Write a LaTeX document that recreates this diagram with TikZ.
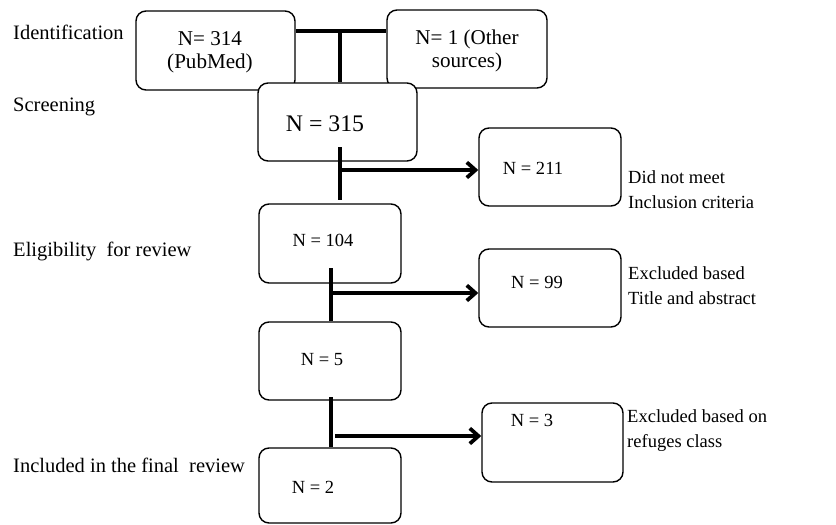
\documentclass[tikz,border=0pt]{standalone}
\usepackage{fontspec}
\setmainfont{Liberation Serif}
\usetikzlibrary{arrows.meta}

\begin{document}
\begin{tikzpicture}[x=0.03cm,y=-0.03cm,
  box/.style={draw, line width=1.2pt, rounded corners=0.3cm, inner sep=0pt},
  conn/.style={line width=3.2pt},
  arr/.style={line width=3.2pt, -{Straight Barb[length=2.6mm,width=4.6mm]}},
  stage/.style={anchor=base west, inner sep=0pt, font=\fontsize{17.5}{21}\selectfont},
  note/.style={anchor=west, align=left, inner sep=0pt, font=\fontsize{15.8}{21.3}\selectfont},
  num/.style={inner sep=0pt, font=\fontsize{15.8}{19}\selectfont},
  top/.style={inner sep=0pt, align=center, font=\fontsize{18}{19.6}\selectfont}]

\useasboundingbox (0,0) rectangle (836,524);

% stages on the left
\node[stage] (ident) at (13,39) {Identification};
\node[stage] (screen) at (13,111) {Screening};
\node[stage] (elig) at (13,256) {Eligibility\ \ for review};
\node[stage] (incl) at (13,472) {Included in the final\ \ review};

% boxes
\node[box, minimum width=4.77cm, minimum height=2.37cm] (b314) at (215.5,50.5) {};
\node[box, minimum width=4.8cm, minimum height=2.34cm] (bother) at (467,49) {};
\node[box, fill=white, minimum width=4.77cm, minimum height=2.34cm] (b315) at (337.5,122) {};
\node[box, minimum width=4.26cm, minimum height=2.34cm] (b211) at (550,167) {};
\node[box, minimum width=4.26cm, minimum height=2.37cm] (b104) at (330,243.5) {};
\node[box, minimum width=4.26cm, minimum height=2.34cm] (b99) at (550,288) {};
\node[box, minimum width=4.26cm, minimum height=2.34cm] (b5) at (330,361) {};
\node[box, minimum width=4.23cm, minimum height=2.37cm] (b3) at (552.5,442.5) {};
\node[box, minimum width=4.26cm, minimum height=2.25cm] (b2) at (330,485.5) {};

% texts in the boxes
\node[top] (t314) at (210,52) {N= 314\\(PubMed)};
\node[top] (tother) at (467,51) {N= 1 (Other\\sources)};
\node[inner sep=0pt, font=\fontsize{20.3}{24}\selectfont] (t315) at (325,124) {N = 315};
\node[num] (t211) at (533,168) {N = 211};
\node[num] (t104) at (323,240) {N = 104};
\node[num] (t99) at (537,282) {N = 99};
\node[num] (t5) at (322,360) {N = 5};
\node[num] (t3) at (532,420) {N = 3};
\node[num] (t2) at (313,487) {N = 2};

% notes beside the excluded boxes
\node[note] (n211) at (628,190) {Did not meet\\Inclusion criteria};
\node[note] (n99) at (628,286) {Excluded based\\Title and abstract};
\node[note] (n3) at (627,431) {Excluded based on\\refuges class};

% junctions
\coordinate (j0) at (340,31);
\coordinate (j1) at (340,147);
\coordinate (j2) at (340,200);
\coordinate (k1) at (340,170);
\coordinate (j3) at (331,268);
\coordinate (k2) at (331,293);
\coordinate (j4) at (331,397);
\coordinate (k3) at (335,436);

% connectors
\draw[conn] (b314.east |- j0) -- (bother.west |- j0);
\draw[conn] (j0) -- (j0 |- b315.north);
\draw[conn] (j1) -- (j2);
\draw[arr] (k1) -- (b211.west |- k1);
\draw[conn] (j3) -- (j3 |- b5.north);
\draw[arr] (k2) -- (b99.west |- k2);
\draw[conn] (j4) -- (j4 |- b2.north);
\draw[arr] (k3) -- (b3.west |- k3);
\end{tikzpicture}
\end{document}
